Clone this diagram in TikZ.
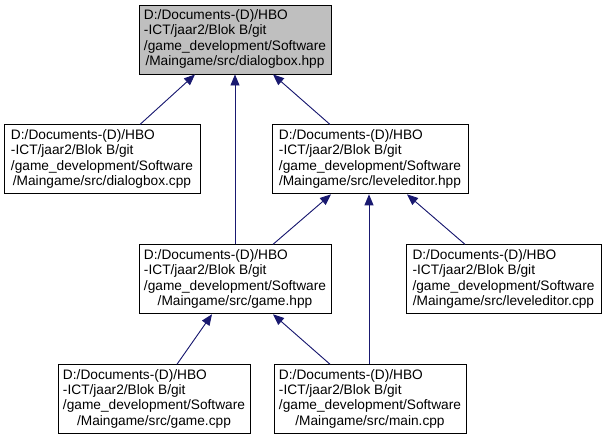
\documentclass[tikz,border=0pt]{standalone}
\usepackage{fontspec}
\setmainfont{Liberation Sans}
\usepackage{tikz}
\usetikzlibrary{arrows.meta,positioning}

\definecolor{edgeblue}{RGB}{25,25,112}
\definecolor{nodegray}{RGB}{191,191,191}

% label with the last line centred, as doxygen prints it
\newcommand{\srcpath}[1]{\begin{tabular}{@{}l@{}}D:/Documents-(D)/HBO\\-ICT/jaar2/Blok B/git\\/game\_development/Software\\\multicolumn{1}{@{}c@{}}{/Maingame/src/#1}\end{tabular}}

\begin{document}
\begin{tikzpicture}[
  x=1pt, y=-1pt,
  font=\fontsize{13.7}{15.4}\selectfont,
  box/.style={draw, line width=0.9pt, inner sep=0pt, minimum width=192pt, minimum height=69pt},
  arr/.style={-{Triangle[length=11pt, width=9pt]}, draw=edgeblue, fill=edgeblue, line width=0.9pt}
]
\useasboundingbox (0,0) rectangle (607,437);
\node[box, fill=nodegray] (hpp) at (235,39.5) {\srcpath{dialogbox.hpp}};
\node[box, minimum width=196pt, below=50pt of hpp, xshift=-133pt] (dcpp) {\srcpath{dialogbox.cpp}};
\node[box, minimum width=196pt, below=50pt of hpp, xshift=135pt] (lhpp) {\srcpath{leveleditor.hpp}};
\node[box, below=50pt of lhpp, xshift=-135pt] (ghpp) {\srcpath{game.hpp}};
\node[box, minimum width=195pt, below=50pt of lhpp, xshift=133.5pt] (lcpp) {\srcpath{leveleditor.cpp}};
\node[box, below=50pt of ghpp, xshift=-81pt] (gcpp) {\srcpath{game.cpp}};
\node[box, below=50pt of ghpp, xshift=135pt] (mcpp) {\srcpath{main.cpp}};
\draw[arr] ([xshift=38pt]dcpp.north) -- ([xshift=-40pt]hpp.south);
\draw[arr] (ghpp.north) -- (hpp.south);
\draw[arr] ([xshift=-40pt]lhpp.north) -- ([xshift=38pt]hpp.south);
\draw[arr] ([xshift=38pt]ghpp.north) -- ([xshift=-39pt]lhpp.south);
\draw[arr] ([xshift=-1pt]mcpp.north) -- ([xshift=-1pt]lhpp.south);
\draw[arr] ([xshift=-38.5pt]lcpp.north) -- ([xshift=37pt]lhpp.south);
\draw[arr] ([xshift=23pt]gcpp.north) -- ([xshift=-23pt]ghpp.south);
\draw[arr] ([xshift=-40pt]mcpp.north) -- ([xshift=38pt]ghpp.south);
\end{tikzpicture}
\end{document}
